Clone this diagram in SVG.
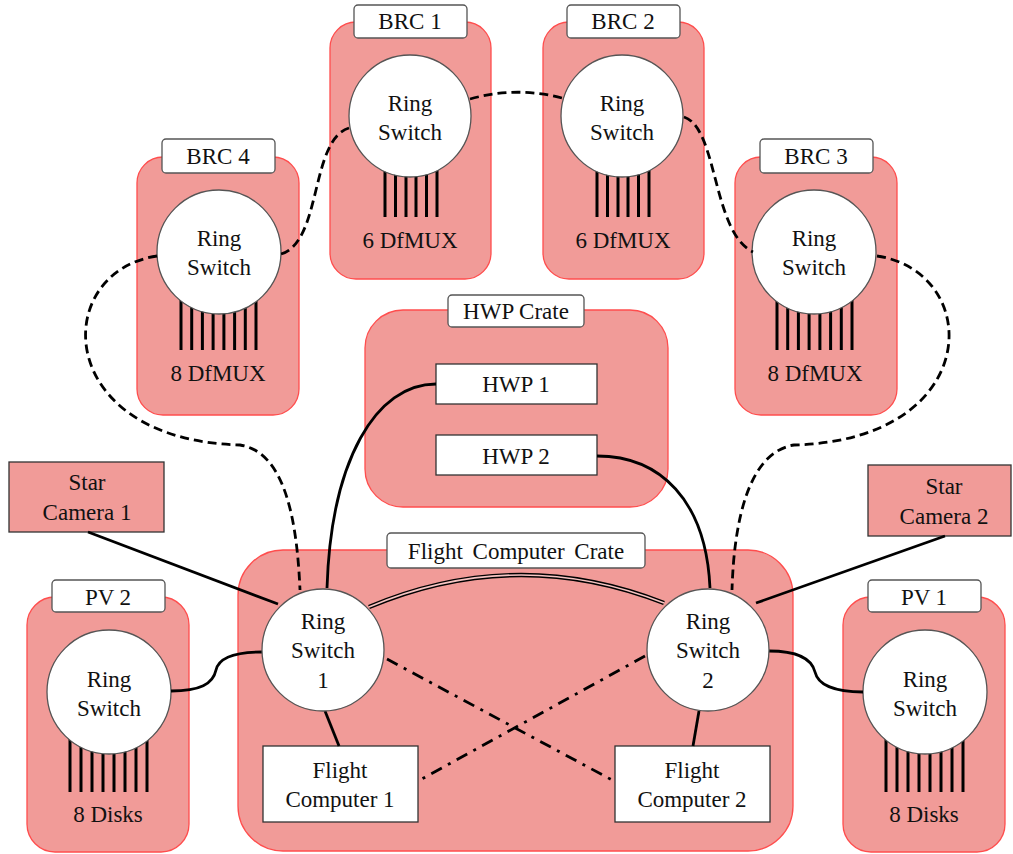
<svg xmlns="http://www.w3.org/2000/svg" width="1013" height="854" viewBox="0 0 1013 854" font-family="'Liberation Serif', Tinos, 'Times New Roman', 'DejaVu Serif', serif">
<style>
.crate{fill:#f19b98;stroke:#ff4d4d;stroke-width:1.3}
.lbl{fill:#fff;stroke:#555;stroke-width:1.3}
.box{fill:#fff;stroke:#333;stroke-width:1.3}
.pbox{fill:#f19b98;stroke:#333;stroke-width:1.3}
.sw{fill:#fff;stroke:#555;stroke-width:1.3}
.port{stroke:#000;stroke-width:3}
text{font-family:'Liberation Serif', Tinos, 'Times New Roman', 'DejaVu Serif', serif;font-size:23px;fill:#111;text-anchor:middle}
.solid{fill:none;stroke:#000;stroke-width:2.8}
.dash{fill:none;stroke:#000;stroke-width:2.8;stroke-dasharray:9 5}
.dd{fill:none;stroke:#000;stroke-width:2.8;stroke-dasharray:12 7 3 7}
</style>
<g id="crate-brc1">
<rect class="crate" x="330" y="22" width="161" height="257" rx="26"/>
<rect class="lbl" x="354" y="5" width="113" height="33" rx="4"/>
<text x="410" y="29">BRC 1</text>
<g class="port"><line x1="385" y1="160" x2="385" y2="217"/><line x1="395.5" y1="160" x2="395.5" y2="217"/><line x1="406" y1="160" x2="406" y2="217"/><line x1="416" y1="160" x2="416" y2="217"/><line x1="426.5" y1="160" x2="426.5" y2="217"/><line x1="437" y1="160" x2="437" y2="217"/></g>
<circle class="sw" cx="410" cy="116" r="61"/>
<text x="410" y="111">Ring</text><text x="410" y="140">Switch</text>
<text x="410" y="248">6 DfMUX</text>
</g>
<g id="crate-brc2">
<rect class="crate" x="543" y="22" width="161" height="257" rx="26"/>
<rect class="lbl" x="567" y="5" width="113" height="33" rx="4"/>
<text x="623" y="29">BRC 2</text>
<g class="port"><line x1="597" y1="160" x2="597" y2="217"/><line x1="607.5" y1="160" x2="607.5" y2="217"/><line x1="618" y1="160" x2="618" y2="217"/><line x1="628" y1="160" x2="628" y2="217"/><line x1="638.5" y1="160" x2="638.5" y2="217"/><line x1="649" y1="160" x2="649" y2="217"/></g>
<circle class="sw" cx="622" cy="116" r="61"/>
<text x="622" y="111">Ring</text><text x="622" y="140">Switch</text>
<text x="623" y="248">6 DfMUX</text>
</g>
<g id="crate-brc4">
<rect class="crate" x="137" y="157" width="162" height="258" rx="26"/>
<rect class="lbl" x="162" y="139" width="113" height="34" rx="4"/>
<text x="218" y="164">BRC 4</text>
<g class="port"><line x1="181" y1="290" x2="181" y2="350"/><line x1="191.7" y1="290" x2="191.7" y2="350"/><line x1="202.4" y1="290" x2="202.4" y2="350"/><line x1="213.1" y1="290" x2="213.1" y2="350"/><line x1="223.9" y1="290" x2="223.9" y2="350"/><line x1="234.6" y1="290" x2="234.6" y2="350"/><line x1="245.3" y1="290" x2="245.3" y2="350"/><line x1="256" y1="290" x2="256" y2="350"/></g>
<circle class="sw" cx="219" cy="252" r="62"/>
<text x="219" y="246">Ring</text><text x="219" y="275">Switch</text>
<text x="218" y="381">8 DfMUX</text>
</g>
<g id="crate-brc3">
<rect class="crate" x="735" y="157" width="162" height="258" rx="26"/>
<rect class="lbl" x="760" y="139" width="113" height="34" rx="4"/>
<text x="816" y="164">BRC 3</text>
<g class="port"><line x1="777" y1="290" x2="777" y2="350"/><line x1="787.7" y1="290" x2="787.7" y2="350"/><line x1="798.4" y1="290" x2="798.4" y2="350"/><line x1="809.1" y1="290" x2="809.1" y2="350"/><line x1="819.9" y1="290" x2="819.9" y2="350"/><line x1="830.6" y1="290" x2="830.6" y2="350"/><line x1="841.3" y1="290" x2="841.3" y2="350"/><line x1="852" y1="290" x2="852" y2="350"/></g>
<circle class="sw" cx="814" cy="252" r="62"/>
<text x="814" y="246">Ring</text><text x="814" y="275">Switch</text>
<text x="815" y="381">8 DfMUX</text>
</g>
<g id="crate-hwp">
<rect class="crate" x="365" y="310" width="303" height="197" rx="38"/>
<rect class="lbl" x="448" y="295" width="136" height="32" rx="4"/>
<text x="516" y="319">HWP Crate</text>
</g>
<g id="hwp1"><rect class="box" x="436" y="364" width="161" height="40"/><text x="516" y="392">HWP 1</text></g>
<g id="hwp2"><rect class="box" x="436" y="435" width="161" height="40"/><text x="516" y="464">HWP 2</text></g>
<g id="crate-fc">
<rect class="crate" x="238" y="550" width="555" height="301" rx="45"/>
<rect class="lbl" x="387" y="533" width="258" height="35" rx="4"/>
<text x="516" y="559" style="word-spacing:4px">Flight Computer Crate</text>
</g>
<g id="crate-pv2">
<rect class="crate" x="27" y="597" width="162" height="255" rx="28"/>
<rect class="lbl" x="52" y="580" width="113" height="32" rx="4"/>
<text x="108" y="605">PV 2</text>
<g class="port"><line x1="70" y1="730" x2="70" y2="792"/><line x1="81" y1="730" x2="81" y2="792"/><line x1="92" y1="730" x2="92" y2="792"/><line x1="103" y1="730" x2="103" y2="792"/><line x1="114" y1="730" x2="114" y2="792"/><line x1="125" y1="730" x2="125" y2="792"/><line x1="136" y1="730" x2="136" y2="792"/><line x1="147" y1="730" x2="147" y2="792"/></g>
<circle class="sw" cx="109" cy="692" r="62"/>
<text x="109" y="687">Ring</text><text x="109" y="716">Switch</text>
<text x="108" y="822">8 Disks</text>
</g>
<g id="crate-pv1">
<rect class="crate" x="843" y="597" width="162" height="255" rx="28"/>
<rect class="lbl" x="868" y="580" width="113" height="32" rx="4"/>
<text x="924" y="605">PV 1</text>
<g class="port"><line x1="886" y1="730" x2="886" y2="792"/><line x1="897" y1="730" x2="897" y2="792"/><line x1="908" y1="730" x2="908" y2="792"/><line x1="919" y1="730" x2="919" y2="792"/><line x1="930" y1="730" x2="930" y2="792"/><line x1="941" y1="730" x2="941" y2="792"/><line x1="952" y1="730" x2="952" y2="792"/><line x1="963" y1="730" x2="963" y2="792"/></g>
<circle class="sw" cx="925" cy="692" r="62"/>
<text x="925" y="687">Ring</text><text x="925" y="716">Switch</text>
<text x="924" y="822">8 Disks</text>
</g>
<g id="star1"><rect class="pbox" x="9" y="462" width="155" height="70"/><text x="87" y="490">Star</text><text x="87" y="520">Camera 1</text></g>
<g id="star2"><rect class="pbox" x="868" y="465" width="143" height="71"/><text x="944" y="494">Star</text><text x="944" y="524">Camera 2</text></g>
<g id="fc1"><rect class="box" x="263" y="746" width="155" height="76"/><text x="340" y="778">Flight</text><text x="340" y="807">Computer 1</text></g>
<g id="fc2"><rect class="box" x="615" y="746" width="155" height="76"/><text x="692" y="778">Flight</text><text x="692" y="807">Computer 2</text></g>
<g id="connectors">
<path class="dash" d="M470,99 Q516,86 562,98"/>
<path class="dash" d="M684,117 C718,128 712,232 753,252"/>
<path class="dash" d="M349,128 C310,140 322,242 281,254"/>
<path class="dash" d="M157,256 C50,272 52,440 240,445 C285,452 297,520 300,590"/>
<path class="dash" d="M877,256 C984,272 984,440 794,445 C749,452 734,520 732,590"/>
<path class="solid" d="M436,384 C376,384 331,460 327,588"/>
<path class="solid" d="M597,456 C660,456 706,500 710,588"/>
<path class="solid" d="M88,532 L278,604"/>
<path class="solid" d="M945,536 L756,603"/>
<path class="solid" d="M171,691 C200,691 213,684 216,670 C219,657 238,652 262,652"/>
<path class="solid" d="M769,651 C800,651 812,660 815,672 C818,685 835,692 863,692"/>
<path class="solid" d="M325,711 L339,746"/>
<path class="solid" d="M699,711 L693,746"/>
<path class="dd" d="M387,659 L612,780"/>
<path class="dd" d="M645,656 L420,780"/>
<path d="M369,607 Q516,545 664,603" fill="none" stroke="#000" stroke-width="4.5"/>
<path d="M369,607 Q516,545 664,603" fill="none" stroke="#f6c4c2" stroke-width="1.6"/>
</g>
<g id="switch1"><circle class="sw" cx="323" cy="650" r="61"/><text x="323" y="629">Ring</text><text x="323" y="658">Switch</text><text x="323" y="688">1</text></g>
<g id="switch2"><circle class="sw" cx="708" cy="650" r="61"/><text x="708" y="629">Ring</text><text x="708" y="658">Switch</text><text x="708" y="688">2</text></g>
</svg>
